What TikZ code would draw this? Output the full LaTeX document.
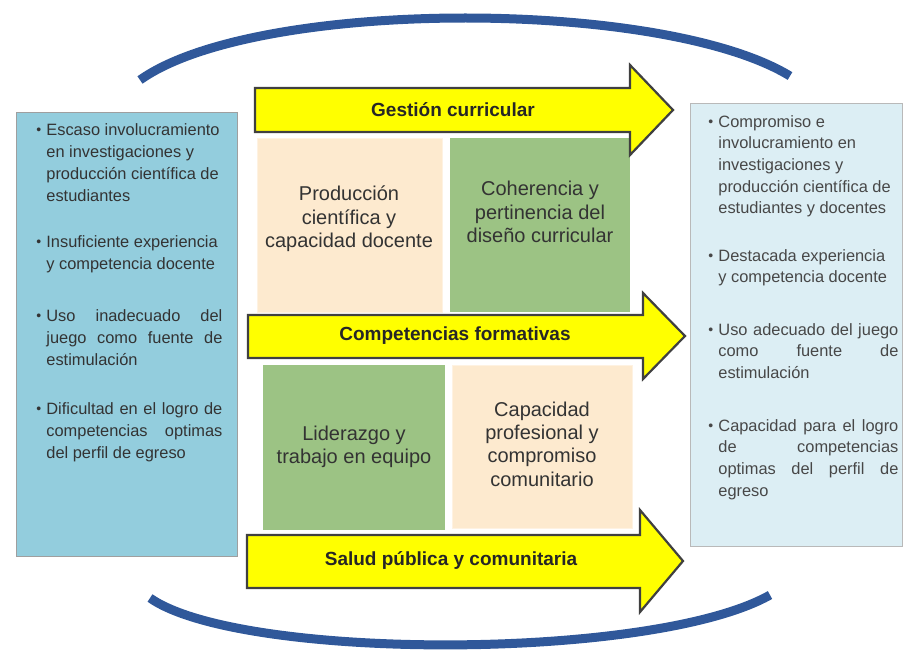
\documentclass[tikz,border=0pt]{standalone}
\usepackage{fontspec}
\setmainfont{Liberation Sans}
\usetikzlibrary{positioning}

\definecolor{probblue}{HTML}{93CDDD}
\definecolor{goalblue}{HTML}{DCEEF4}
\definecolor{cellgreen}{HTML}{9CC384}
\definecolor{cellcream}{HTML}{FDEACF}
\definecolor{bandyellow}{HTML}{FFFF00}
\definecolor{arcblue}{HTML}{30589A}

% bullet hanging to the left of the first line
\newcommand\itembul{\noindent\llap{\raisebox{.6pt}{\scriptsize\textbullet}\hspace{2.6pt}}}

\tikzset{
  sidebox/.style={
    % The shape:
    shape=rectangle, anchor=north west,
    % The border:
    draw=gray!75, line width=.6pt
  },
  sideitem/.style={
    anchor=north west, inner sep=0pt,
    align=justify,
    font=\fontsize{8.2}{11}\selectfont
  },
  cell/.style={shape=rectangle, anchor=north west, inner sep=0pt},
  celltext/.style={align=center, text=black!80, font=\fontsize{10}{11.7}\selectfont},
  % the yellow bands with their heads
  band/.style={fill=bandyellow, draw=black!75, line width=1.1pt, line join=miter},
  bandlabel/.style={font=\fontsize{9.5}{11}\selectfont\bfseries, text=black!85},
  looparc/.style={draw=arcblue, line width=4.5pt}
}

\begin{document}
\begin{tikzpicture}[x=0.5pt, y=-0.5pt]
\useasboundingbox (0,0) rectangle (903,650);

% the cycle around the picture
\coordinate (topl) at (140,80);
\coordinate (topr) at (790,76);
\coordinate (botl) at (150,598);
\coordinate (botr) at (770,595);
\draw[looparc] (topl) .. controls (255,-2) and (662,-2) .. (topr);
\draw[looparc] (botl) .. controls (240,661) and (653,661) .. (botr);

% left: current situation
\node[sidebox, fill=probblue, minimum width=110.5pt, minimum height=222pt] (prob) at (16,112) {};
\node[sideitem, text width=88pt, text=black!80] (prob1) at (46,123)
  {\itembul Escaso involucramiento\\ en investigaciones y\\ producción científica de\\ estudiantes};
\node[sideitem, text width=88pt, text=black!80] (prob2) at (46,235)
  {\itembul Insuficiente experiencia\\ y competencia docente};
\node[sideitem, text width=88pt, text=black!80] (prob3) at (46,309)
  {\itembul Uso inadecuado del\linebreak juego como fuente de\linebreak estimulación};
\node[sideitem, text width=88pt, text=black!80] (prob4) at (46,402)
  {\itembul Dificultad en el logro de\linebreak competencias optimas\linebreak del perfil de egreso};

% right: expected situation
\node[sidebox, fill=goalblue, draw=gray!55, minimum width=106pt, minimum height=221.5pt] (goal) at (690,103) {};
\node[sideitem, text width=90pt, text=black!72, font=\fontsize{8.2}{10.8}\selectfont] (goal1) at (718,115)
  {\itembul Compromiso e\\ involucramiento en\\ investigaciones y\\ producción científica de\\ estudiantes y docentes};
\node[sideitem, text width=90pt, text=black!72, font=\fontsize{8.2}{10.8}\selectfont] (goal2) at (718,249)
  {\itembul Destacada experiencia\\ y competencia docente};
\node[sideitem, text width=90pt, text=black!72, font=\fontsize{8.2}{10.8}\selectfont] (goal3) at (718,323)
  {\itembul Uso adecuado del juego\linebreak como fuente de\linebreak estimulación};
\node[sideitem, text width=90pt, text=black!72, font=\fontsize{8.2}{10.8}\selectfont] (goal4) at (718,419)
  {\itembul Capacidad para el logro\linebreak de competencias\linebreak optimas del perfil de\linebreak egreso};

% the four cells
\node[cell, fill=cellcream, draw=cellcream!60, minimum width=92.5pt, minimum height=87pt] (prod) at (257,138) {};
\node[cell, fill=cellgreen, minimum width=90pt, minimum height=87pt] (coh) at (450,138) {};
\node[cell, fill=cellgreen, minimum width=91pt, minimum height=82.5pt] (lid) at (263,365) {};
\node[cell, fill=cellcream, draw=cellcream!60, minimum width=90pt, minimum height=81.5pt] (cap) at (452,365) {};
\node[celltext] (prodtxt) at (349,219) {Producción\\científica y\\capacidad docente};
\node[celltext] (cohtxt) at (540,212) {Coherencia y\\pertinencia del\\diseño curricular};
\node[celltext] (lidtxt) at (354,447) {Liderazgo y\\trabajo en equipo};
\node[celltext] (captxt) at (542,444) {Capacidad\\profesional y\\compromiso\\comunitario};

% the three bands
\draw[band] (255,88) -- (630,88) -- (630,65) -- (673,110) -- (630,155) -- (630,132) -- (255,132) -- cycle;
\node[bandlabel] (gest) at (453,110) {Gestión curricular};
\draw[band] (248,315) -- (643,315) -- (643,293) -- (685,336) -- (643,379) -- (643,358) -- (248,358) -- cycle;
\node[bandlabel] (comp) at (455,336) {Competencias formativas};
\draw[band] (247,535) -- (640,535) -- (640,510) -- (683,561) -- (640,612) -- (640,588) -- (247,588) -- cycle;
\node[bandlabel] (salud) at (451,560) {Salud pública y comunitaria};
\end{tikzpicture}
\end{document}
